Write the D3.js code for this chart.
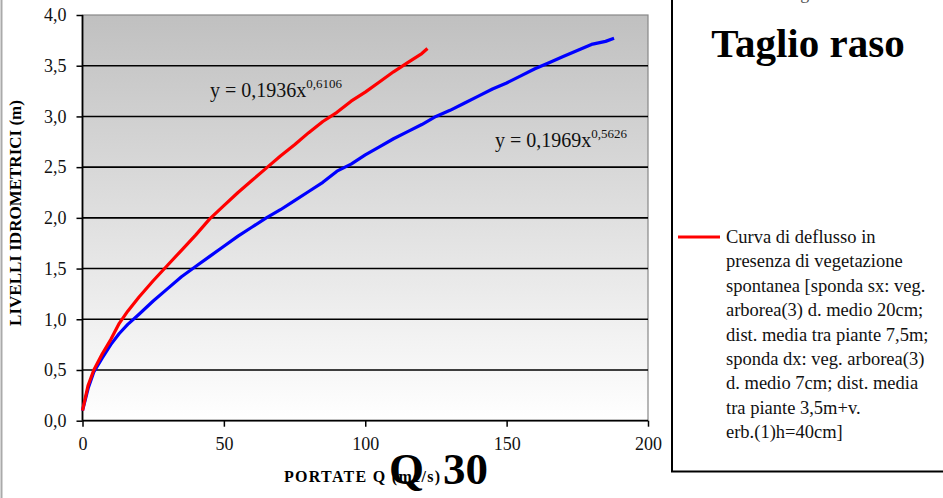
<!DOCTYPE html>
<html>
<head>
<meta charset="utf-8">
<script src="https://cdn.jsdelivr.net/npm/d3@7"></script>
<style>
  body { margin: 0; background: #fff; }
  svg { display: block; font-family: "Liberation Serif", "DejaVu Serif", serif; }
</style>
</head>
<body>
<svg id="chart" width="943" height="498"></svg>
<script>
// curve: vegetazione spontanea (red)
const redQ = [0, 2, 4, 7, 10, 13, 16, 20, 25, 30, 35, 40, 45, 50, 55, 60, 65, 70, 75, 80, 85, 90, 95, 100, 105, 110, 115, 120, 122];
const redH = [0.10, 0.35, 0.50, 0.66, 0.80, 0.96, 1.08, 1.22, 1.38, 1.53, 1.68, 1.83, 1.99, 2.12, 2.25, 2.37, 2.49, 2.61, 2.72, 2.84, 2.95, 3.04, 3.15, 3.24, 3.34, 3.44, 3.53, 3.62, 3.67];
// taglio raso (blue)
const blueQ = [0, 2, 4, 7, 10, 13, 16, 20, 25, 30, 35, 40, 45, 50, 55, 60, 65, 70, 75, 80, 85, 90, 95, 100, 105, 110, 115, 120, 125, 130, 135, 140, 145, 150, 155, 160, 165, 170, 175, 180, 185, 188];
const blueH = [0.10, 0.32, 0.48, 0.62, 0.75, 0.86, 0.95, 1.05, 1.18, 1.30, 1.42, 1.52, 1.62, 1.72, 1.82, 1.91, 2.00, 2.08, 2.17, 2.26, 2.35, 2.46, 2.53, 2.62, 2.70, 2.78, 2.85, 2.92, 3.00, 3.06, 3.13, 3.20, 3.27, 3.33, 3.40, 3.47, 3.53, 3.59, 3.65, 3.71, 3.74, 3.77];

const xTicks = [0, 50, 100, 150, 200];
const yTicks = [0, 0.5, 1, 1.5, 2, 2.5, 3, 3.5, 4];
const legendLines = [
  'Curva di deflusso in',
  'presenza di vegetazione',
  'spontanea [sponda sx: veg.',
  'arborea(3) d. medio 20cm;',
  'dist. media tra piante 7,5m;',
  'sponda dx: veg. arborea(3)',
  'd. medio 7cm; dist. media',
  'tra piante 3,5m+v.',
  'erb.(1)h=40cm]'
];

const svg = d3.select('svg#chart');
const margin = {top: 15, left: 82.5};
const innerWidth = 648 - margin.left;
const innerHeight = 420.7 - margin.top;

const xScale = d3.scaleLinear().domain([0, 200]).range([0, innerWidth]);
const yScale = d3.scaleLinear().domain([0, 4]).range([innerHeight, 0]);
const fmt = d => d3.format('.1f')(d).replace('.', ',');

// page border on the left
svg.append('line').attr('x1', 1.5).attr('x2', 1.5).attr('y1', 0).attr('y2', 498)
  .attr('stroke', '#aaa').attr('stroke-width', 2);

// background gradient
const grad = svg.append('defs').append('linearGradient')
  .attr('id', 'bg').attr('x1', 0).attr('x2', 0).attr('y1', 0).attr('y2', 1);
grad.append('stop').attr('offset', '0%').attr('stop-color', '#c0c0c0');
grad.append('stop').attr('offset', '100%').attr('stop-color', '#ffffff');

const g = svg.append('g')
  .attr('transform', `translate(${margin.left}, ${margin.top})`);

g.append('rect')
  .attr('width', innerWidth).attr('height', innerHeight)
  .attr('fill', 'url(#bg)')
  .attr('stroke', '#888').attr('stroke-width', 1.2);

// gridlines
g.selectAll('line.grid').data(yTicks.slice(1, -1))
  .enter().append('line').attr('class', 'grid')
  .attr('x1', 0).attr('x2', innerWidth)
  .attr('y1', d => yScale(d)).attr('y2', d => yScale(d))
  .attr('stroke', '#000').attr('stroke-width', 1.6);

// axes
const yAxis = d3.axisLeft(yScale).tickValues(yTicks).tickFormat(fmt).tickSize(6).tickPadding(10);
const xAxis = d3.axisBottom(xScale).tickValues(xTicks).tickFormat(d3.format('d')).tickSize(6).tickPadding(11);

const yG = g.append('g').call(yAxis);
const xG = g.append('g').attr('transform', `translate(0, ${innerHeight})`).call(xAxis);
[yG, xG].forEach(a => {
  a.attr('font-family', null);
  a.select('.domain').attr('stroke', '#000').attr('stroke-width', 1.8);
  a.selectAll('.tick line').attr('stroke', '#000').attr('stroke-width', 1.5);
  a.selectAll('.tick text')
    .attr('font-size', 18).attr('fill', '#111');
});
xG.select('.domain').attr('d', `M0,0H${innerWidth}`);
yG.select('.domain').attr('d', `M0,0V${innerHeight}`);

// curves
const line = d3.line().x(d => xScale(d[0])).y(d => yScale(d[1]));
const series = [
  {q: blueQ, h: blueH, color: '#0000ff'},
  {q: redQ, h: redH, color: '#ff0000'}
];
g.selectAll('path.curve').data(series)
  .enter().append('path').attr('class', 'curve')
  .attr('d', s => line(s.q.map((q, i) => [q, s.h[i]])))
  .attr('fill', 'none')
  .attr('stroke', s => s.color)
  .attr('stroke-width', 3.2)
  .attr('stroke-linejoin', 'round');

// trend equations
const eq = (x, y, coef, exp) => {
  const t = svg.append('text').attr('x', x).attr('y', y)
    .attr('font-size', 20).attr('fill', '#111');
  t.append('tspan').text(`y = ${coef}x`);
  t.append('tspan').attr('dy', -9).attr('font-size', 13).text(exp);
};
eq(210, 97, '0,1936', '0,6106');
eq(495, 147, '0,1969', '0,5626');

// axis titles
svg.append('text')
  .attr('transform', 'translate(21, 213) rotate(-90)')
  .attr('text-anchor', 'middle')
  .attr('font-size', 17).attr('font-weight', 'bold')
  .text('LIVELLI IDROMETRICI (m)');

svg.append('text')
  .attr('x', 284).attr('y', 482)
  .attr('font-size', 16).attr('font-weight', 'bold')
  .attr('letter-spacing', 1.3)
  .text('PORTATE Q (mc/s)');

const q30 = svg.append('text')
  .attr('y', 484)
  .attr('font-size', 45).attr('font-weight', 'bold');
q30.append('tspan').attr('x', 389).text('Q');
q30.append('tspan').attr('x', 443).text('30');

// legend box
svg.append('path')
  .attr('d', 'M672,-5V471.5H950')
  .attr('fill', 'none').attr('stroke', '#000').attr('stroke-width', 2);

svg.append('text')
  .attr('x', 778).attr('y', -1).attr('text-anchor', 'middle')
  .attr('font-size', 18).attr('fill', '#555')
  .text('in assenza di vegetazione');

svg.append('text')
  .attr('x', 808).attr('y', 57).attr('text-anchor', 'middle')
  .attr('font-size', 41).attr('font-weight', 'bold')
  .text('Taglio raso');

svg.append('line')
  .attr('x1', 678).attr('x2', 720).attr('y1', 237).attr('y2', 237)
  .attr('stroke', '#ff0000').attr('stroke-width', 3);

svg.append('text')
  .attr('font-size', 18.5).attr('fill', '#111')
  .selectAll('tspan').data(legendLines)
  .enter().append('tspan')
  .attr('x', 726)
  .attr('y', (d, i) => 243 + i * 24.4)
  .text(d => d);
</script>
</body>
</html>
